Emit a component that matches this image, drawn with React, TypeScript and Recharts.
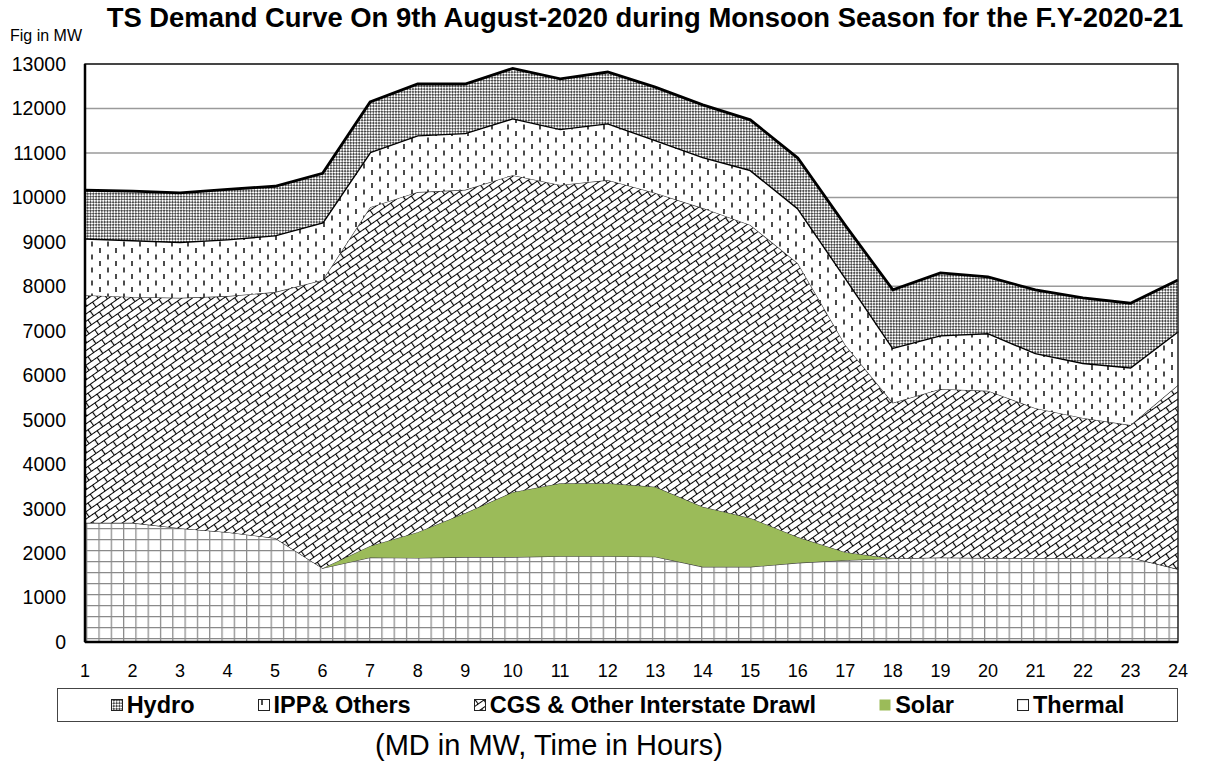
import { AreaChart, Area, XAxis, YAxis, CartesianGrid, ReferenceArea } from 'recharts';

const hours = [1, 2, 3, 4, 5, 6, 7, 8, 9, 10, 11, 12, 13, 14, 15, 16, 17, 18, 19, 20, 21, 22, 23, 24];

// MW per hour, stacked bottom to top
const thermal = [2680, 2680, 2560, 2470, 2340, 1660, 1900, 1890, 1910, 1910, 1930, 1930, 1920, 1690, 1690, 1780, 1840, 1880, 1900, 1890, 1890, 1890, 1900, 1640];
const solar = [0, 0, 0, 0, 0, 0, 260, 580, 990, 1460, 1640, 1640, 1570, 1350, 1100, 580, 180, 0, 0, 0, 0, 0, 0, 0];
const cgs = [5120, 5080, 5180, 5310, 5530, 6480, 7620, 7650, 7270, 7130, 6710, 6820, 6610, 6720, 6590, 6160, 4660, 3500, 3790, 3760, 3370, 3150, 2980, 4140];
const ipp = [1280, 1280, 1260, 1280, 1280, 1300, 1240, 1280, 1280, 1280, 1260, 1280, 1190, 1150, 1240, 1240, 1520, 1240, 1210, 1300, 1240, 1240, 1300, 1210];
const hydro = [1080, 1100, 1100, 1120, 1100, 1100, 1125, 1150, 1100, 1120, 1125, 1150, 1190, 1170, 1125, 1125, 1170, 1300, 1400, 1260, 1420, 1460, 1440, 1150];

const yTicks = [0, 1000, 2000, 3000, 4000, 5000, 6000, 7000, 8000, 9000, 10000, 11000, 12000, 13000];

const data = hours.map((h, i) => ({
  hour: h,
  thermal: thermal[i],
  solar: solar[i],
  cgs: cgs[i],
  ipp: ipp[i],
  hydro: hydro[i],
}));

const font = '"Liberation Sans", Arial, sans-serif';

function Patterns() {
  return (
    <defs>
      <pattern id="pThermal" width="12.3" height="11" patternUnits="userSpaceOnUse">
        <rect width="12.3" height="11" fill="#fff" />
        <path d="M0 0.5 H12.3 M0.6 0 V11" stroke="#8a8a8a" strokeWidth="1.3" />
      </pattern>
      <pattern id="pCgs" width="14" height="12" patternUnits="userSpaceOnUse" patternTransform="rotate(-35)">
        <rect width="14" height="12" fill="#fff" />
        <path d="M0 0.5 H14 M0 6.5 H14 M0.5 0.5 V6.5 M7.5 6.5 V12.5" stroke="#000" strokeWidth="1.2" />
      </pattern>
      <pattern id="pIpp" width="16" height="13" patternUnits="userSpaceOnUse">
        <rect width="16" height="13" fill="#fff" />
        <path d="M4 1 V6 M12 7.5 V12.5" stroke="#000" strokeWidth="1.4" />
      </pattern>
      <pattern id="pHydro" width="4" height="4" patternUnits="userSpaceOnUse" patternTransform="rotate(45)">
        <rect width="4" height="4" fill="#fff" />
        <rect width="2" height="2" fill="#4a4a4a" />
        <rect x="2" y="2" width="2" height="2" fill="#4a4a4a" />
      </pattern>
    </defs>
  );
}

function LegendIcon({ fill }: { fill: string }) {
  return (
    <svg width="12" height="12" style={{ marginRight: 4, flex: 'none' }}>
      <rect x="0.5" y="0.5" width="11" height="11" fill={fill} stroke={fill === '#9bbb59' ? 'none' : '#222'} />
    </svg>
  );
}

const legendItems = [
  { name: 'Hydro', fill: 'url(#pHydro)' },
  { name: 'IPP& Others', fill: 'url(#pIpp)' },
  { name: 'CGS & Other Interstate Drawl', fill: 'url(#pCgs)' },
  { name: 'Solar', fill: '#9bbb59' },
  { name: 'Thermal', fill: 'url(#pThermal)' },
];

export default function App() {
  return (
    <div style={{ position: 'relative', width: 1206, height: 765, background: '#fff', fontFamily: font, overflow: 'hidden' }}>
      <style>{'body{margin:0}'}</style>
      <div style={{ position: 'absolute', left: 645, top: 4, transform: 'translateX(-50%)', whiteSpace: 'nowrap', fontSize: 27.4, fontWeight: 700, lineHeight: 1, color: '#000' }}>
        TS Demand Curve On 9th August-2020 during Monsoon Season for the F.Y-2020-21
      </div>
      <div style={{ position: 'absolute', left: 10, top: 28, fontSize: 16, lineHeight: 1, color: '#000' }}>Fig in MW</div>

      <AreaChart width={1206} height={765} data={data} margin={{ top: 64, right: 28, bottom: 0, left: 0 }}>
        <Patterns />
        <CartesianGrid horizontal vertical={false} stroke="#9a9a9a" strokeWidth={1.5} />
        <XAxis
          dataKey="hour"
          height={123}
          tickLine={false}
          tickSize={0}
          tickMargin={22}
          axisLine={{ stroke: '#000', strokeWidth: 2.5 }}
          tick={{ fill: '#000', fontSize: 18, fontFamily: font }}
          interval={0}
        />
        <YAxis
          width={85}
          domain={[0, 13000]}
          ticks={yTicks}
          tickLine={false}
          tickSize={0}
          tickMargin={19}
          axisLine={{ stroke: '#000', strokeWidth: 2.5 }}
          tick={{ fill: '#000', fontSize: 19.5, fontFamily: font }}
          interval={0}
        />
        <Area type="linear" dataKey="thermal" stackId="1" fill="url(#pThermal)" fillOpacity={1} stroke="#444" strokeWidth={1.2} isAnimationActive={false} />
        <Area type="linear" dataKey="solar" stackId="1" fill="#9bbb59" fillOpacity={1} stroke="#333" strokeWidth={1} isAnimationActive={false} />
        <Area type="linear" dataKey="cgs" stackId="1" fill="url(#pCgs)" fillOpacity={1} stroke="#333" strokeWidth={1.2} isAnimationActive={false} />
        <Area type="linear" dataKey="ipp" stackId="1" fill="url(#pIpp)" fillOpacity={1} stroke="#000" strokeWidth={2.8} isAnimationActive={false} />
        <Area type="linear" dataKey="hydro" stackId="1" fill="url(#pHydro)" fillOpacity={1} stroke="#000" strokeWidth={2.8} isAnimationActive={false} />
        <ReferenceArea x1={1} x2={24} y1={0} y2={13000} fill="none" stroke="#222" strokeWidth={1.5} />
      </AreaChart>

      <div
        style={{
          position: 'absolute',
          left: 57,
          top: 688,
          width: 1119,
          height: 32,
          border: '1px solid #444',
          display: 'flex',
          alignItems: 'center',
          justifyContent: 'center',
          gap: 63,
          fontSize: 23.5,
          fontWeight: 700,
          color: '#000',
          whiteSpace: 'nowrap',
        }}
      >
        {legendItems.map((it) => (
          <div key={it.name} style={{ display: 'flex', alignItems: 'center' }}>
            <LegendIcon fill={it.fill} />
            <span>{it.name}</span>
          </div>
        ))}
      </div>

      <div style={{ position: 'absolute', left: 549, top: 731, transform: 'translateX(-50%)', whiteSpace: 'nowrap', fontSize: 29, lineHeight: 1, color: '#000' }}>
        (MD in MW, Time in Hours)
      </div>
    </div>
  );
}
